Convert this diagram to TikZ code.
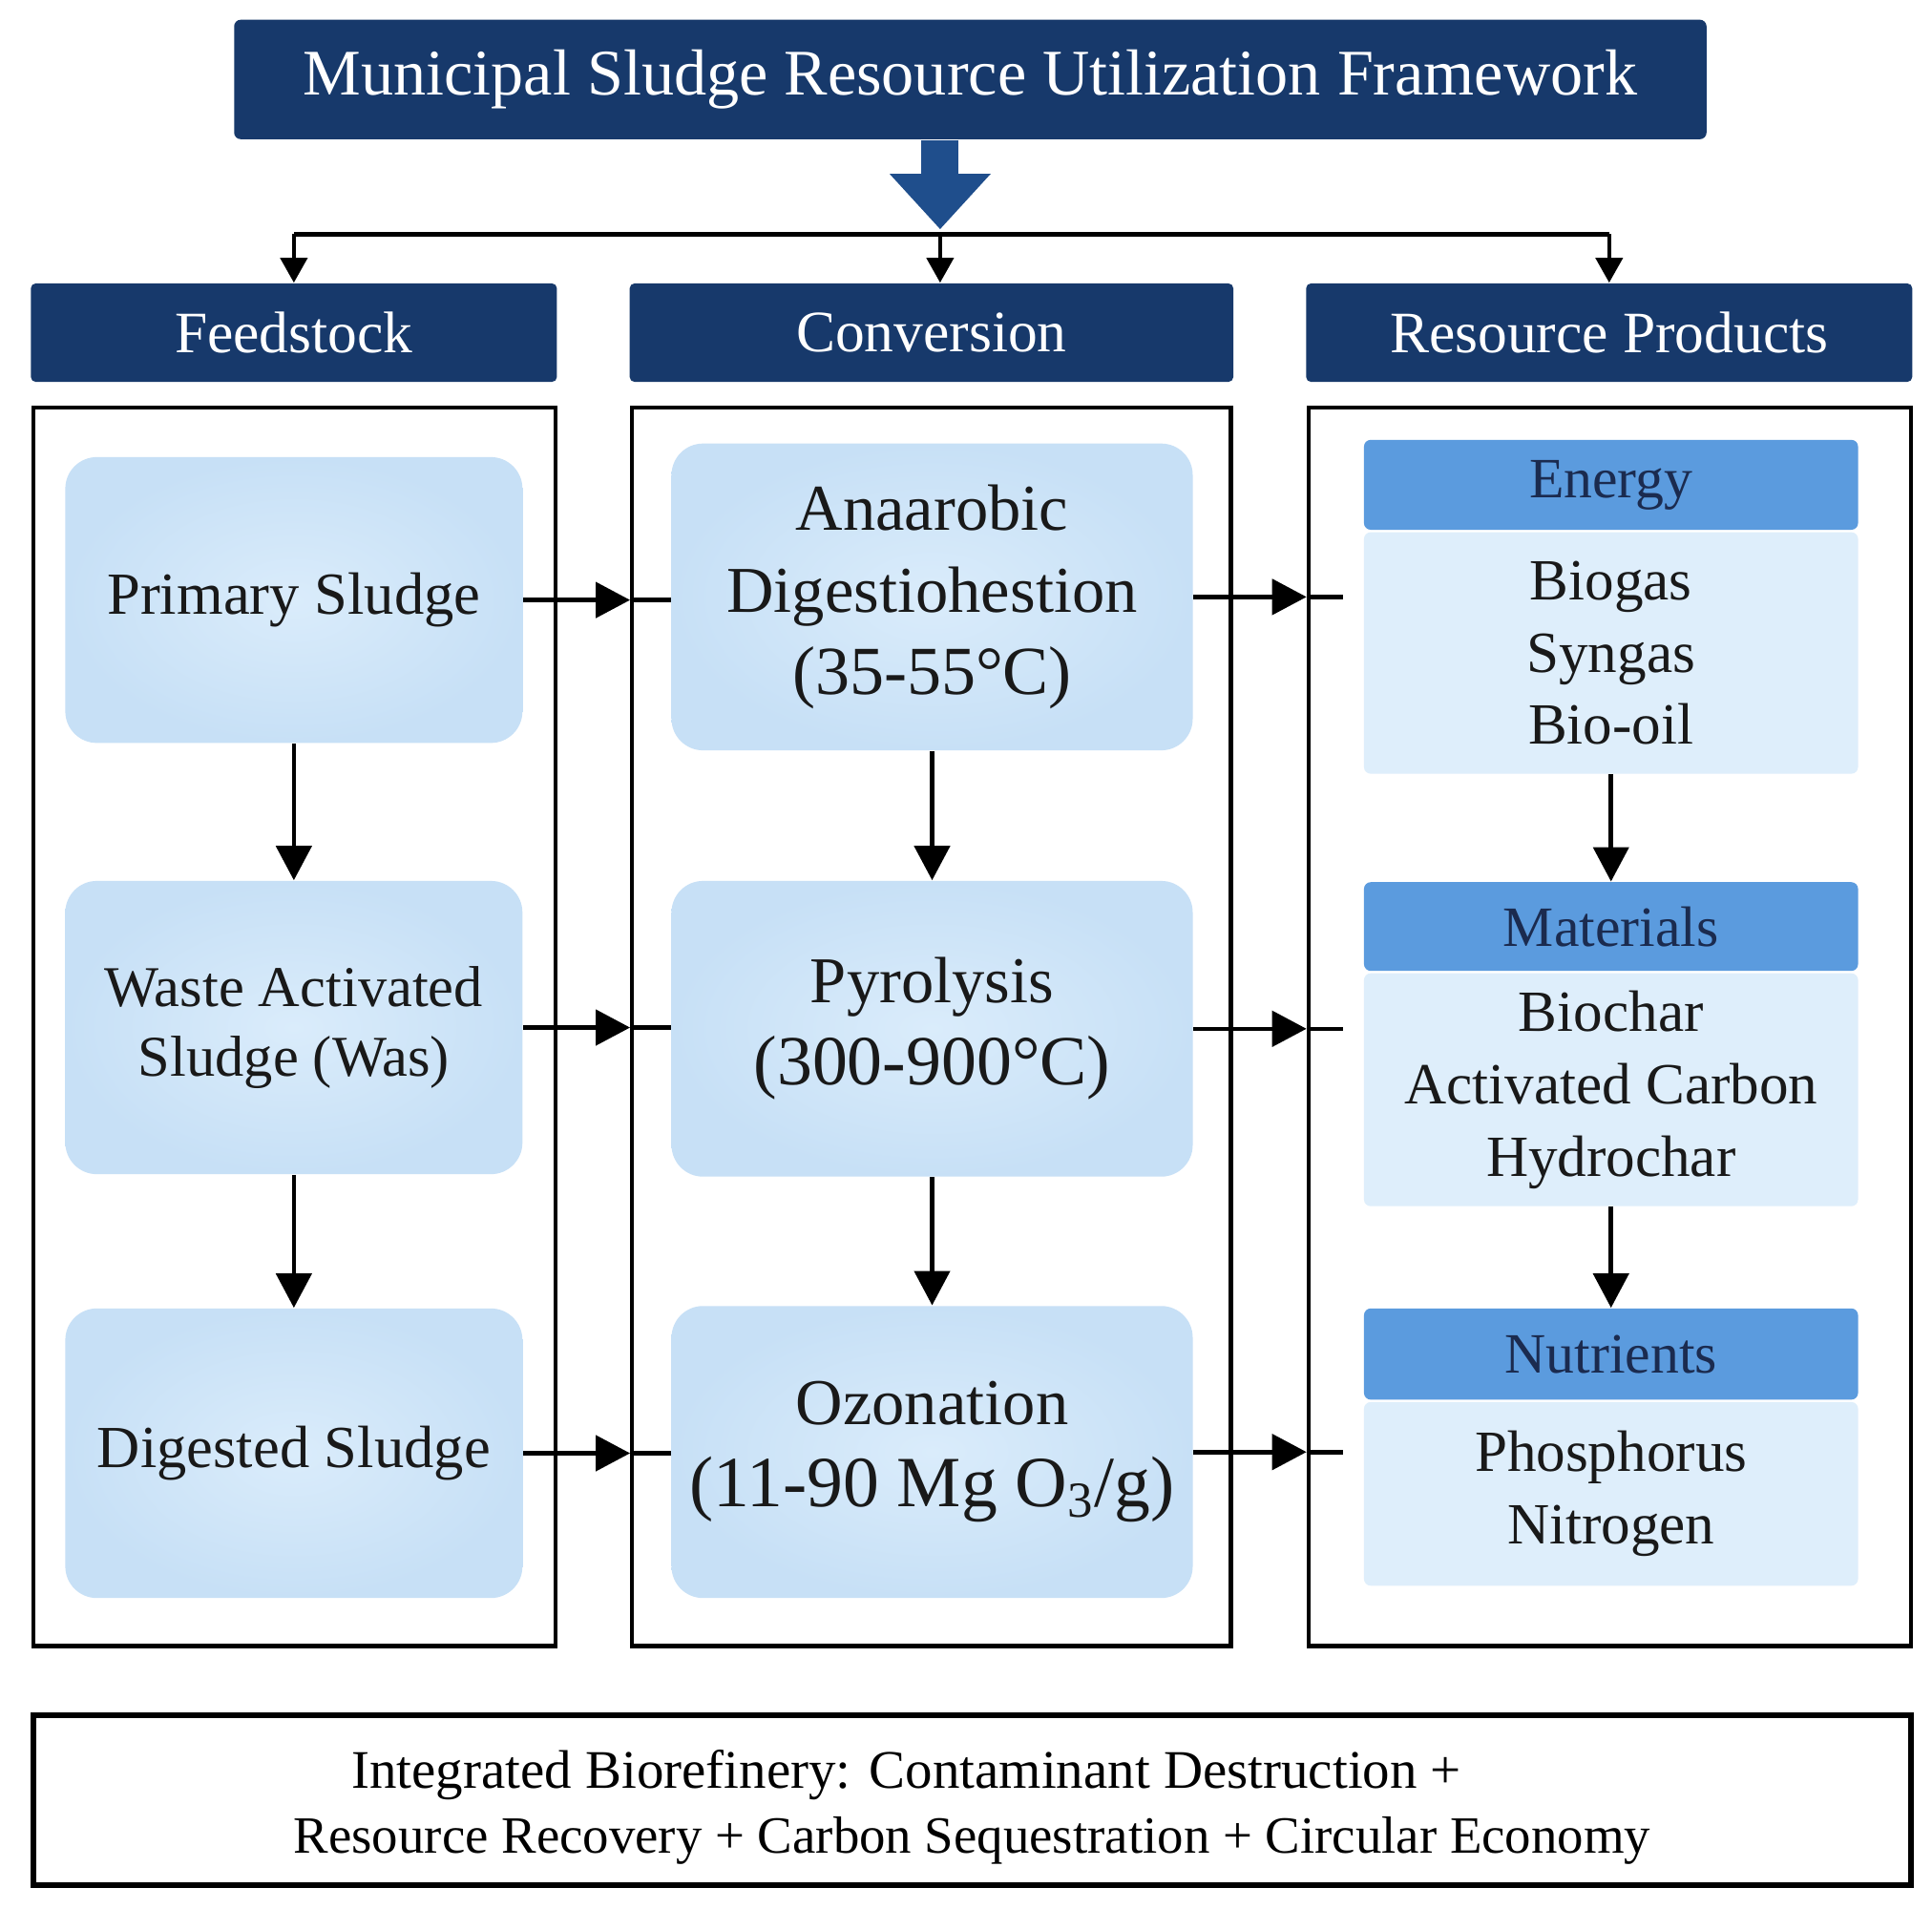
\documentclass[tikz,border=0pt]{standalone}
\usepackage{fontspec}
\setmainfont{Liberation Serif}
\usetikzlibrary{arrows.meta}
\newdimen\pxu \pxu=0.012908cm
\definecolor{navy}{HTML}{17396B}
\definecolor{arrowblue}{HTML}{1F4E8C}
\definecolor{lightA}{HTML}{DAECFB}
\definecolor{lightB}{HTML}{C7E0F6}
\definecolor{rhead}{HTML}{5B9BDE}
\definecolor{rbody}{HTML}{DEEEFB}
\definecolor{darktext}{HTML}{1B2B4F}
\tikzset{
  titlebox/.style={fill=navy, text=white, rounded corners=2pt, inner sep=0pt,
    minimum width=1195\pxu, minimum height=97\pxu, font=\fontsize{19.4}{24}\selectfont},
  colhead/.style={fill=navy, text=white, rounded corners=1.5pt, inner sep=0pt,
    minimum height=80\pxu, font=\fontsize{17.5}{21}\selectfont},
  column/.style={draw=black, line width=1.2pt, inner sep=0pt, minimum height=1005\pxu},
  softbox/.style={shading=radial, inner color=lightA, outer color=lightB,
    rounded corners=3.3mm, inner sep=0pt, align=center, text=black!90},
  feedbox/.style={softbox, minimum width=371\pxu, font=\fontsize{17.2}{21}\selectfont},
  convbox/.style={softbox, minimum width=423\pxu, font=\fontsize{19.5}{24.5}\selectfont},
  reshead/.style={fill=rhead, text=darktext, inner sep=0pt, rounded corners=2pt,
    minimum width=401\pxu, font=\fontsize{17}{21}\selectfont},
  resbody/.style={fill=rbody, inner sep=0pt, rounded corners=2pt, align=center,
    minimum width=401\pxu, text=black!90, font=\fontsize{17.4}{21.6}\selectfont},
  conn/.style={draw=black, line width=1.3pt},
  arr/.style={conn, -{Triangle[length=3.6mm,width=3.7mm]}},
  toparr/.style={draw=black, line width=1.2pt, -{Triangle[length=2.6mm,width=2.8mm]}},
  bigarr/.style={draw=arrowblue, line width=3.9mm, -{Triangle[length=5.8mm,width=10.2mm]}},
  summarybox/.style={draw=black, line width=1.7pt, inner sep=0pt, align=left,
    minimum width=1524\pxu, minimum height=138\pxu, font=\fontsize{15.6}{19.5}\selectfont}
}
\newcommand{\bigline}[1]{{\fontsize{21}{24.5}\selectfont #1}}
\begin{document}
\begin{tikzpicture}[x=0.012908cm, y=-0.012908cm]
\useasboundingbox[fill=white] (0,0) rectangle (1568,1549);

% title
\node[titlebox] (title) at (787.5,64.5) {Municipal Sludge Resource Utilization Framework};
\coordinate (hub) at (763,190);

% column headers
\node[colhead, minimum width=427\pxu] (hF) at (238.5,270) {Feedstock};
\node[colhead, minimum width=490\pxu] (hC) at (756,270) {Conversion};
\node[colhead, minimum width=492\pxu] (hR) at (1306,270) {Resource Products};

% column frames
\node[column, minimum width=424\pxu] (cF) at (239,833.5) {};
\node[column, minimum width=486\pxu] (cC) at (756,833.5) {};
\node[column, minimum width=489\pxu] (cR) at (1306.5,833.5) {};

% feedstock
\node[feedbox, minimum height=232\pxu, font=\fontsize{17.8}{21}\selectfont] (ps) at (238.5,487) {Primary Sludge};
\node[feedbox, minimum height=238\pxu] (was) at (238.5,834) {Waste Activated\\Sludge (Was)};
\node[feedbox, minimum height=235\pxu, font=\fontsize{17.8}{21}\selectfont] (ds) at (238.5,1179.5) {Digested Sludge};

% conversion
\node[convbox, minimum height=249\pxu] (ad) at (756.5,484.5) {Anaarobic\\Digestiohestion\\{\fontsize{20.5}{24.5}\selectfont(35-55°C)}};
\node[convbox, minimum height=240\pxu] (py) at (756.5,835) {Pyrolysis\\\bigline{(300-900°C)}};
\node[convbox, minimum height=237\pxu] (oz) at (756.5,1178.5) {Ozonation\\{\fontsize{21.5}{24.5}\selectfont(11-90 Mg O\textsubscript{3}/g)}};

% resource products
\node[reshead, minimum height=73\pxu] (eh) at (1307.5,393.5) {Energy};
\node[resbody, minimum height=196\pxu] (eb) at (1307.5,530) {Biogas\\Syngas\\Bio-oil};
\node[reshead, minimum height=72\pxu] (mh) at (1307.5,752) {Materials};
\node[resbody, minimum height=189\pxu] (mb) at (1307.5,884.5) {Biochar\\Activated Carbon\\Hydrochar};
\node[reshead, minimum height=74\pxu] (nh) at (1307.5,1099) {Nutrients};
\node[resbody, minimum height=149\pxu] (nb) at (1307.5,1212.5) {Phosphorus\\Nitrogen};

% summary
\node[summarybox] (sum) at (789,1461)
  {\rule{0pt}{15.7pt}\hspace*{47\pxu}{\fontsize{16.2}{19.5}\selectfont Integrated Biorefinery: Contaminant Destruction +}\\Resource Recovery + Carbon Sequestration + Circular Economy};

% top distribution
\draw[bigarr] (title.south -| hub) -- ([yshift=0.5mm]hub);
\draw[draw=black, line width=1.4pt] (hub -| hF) -- (hub -| hR);
\draw[toparr] (hub -| hF) -- (hF.north);
\draw[toparr] (hub) -- (hC.north -| hub);
\draw[toparr] (hub -| hR) -- (hR.north);

% vertical flows
\draw[arr] (ps.south) -- (was.north);
\draw[arr] (was.south) -- (ds.north);
\draw[arr] (ad.south) -- (py.north);
\draw[arr] (py.south) -- (oz.north);
\draw[arr] (eb.south) -- (mh.north);
\draw[arr] (mb.south) -- (nh.north);

% horizontal flows feedstock -> conversion
\draw[arr] (ps.east) -- (ps.east -| cC.west);
\draw[conn] (ps.east -| cC.west) -- (ps.east -| ad.west);
\draw[arr] (was.east) -- (was.east -| cC.west);
\draw[conn] (was.east -| cC.west) -- (was.east -| py.west);
\draw[arr] (ds.east) -- (ds.east -| cC.west);
\draw[conn] (ds.east -| cC.west) -- (ds.east -| oz.west);

% horizontal flows conversion -> resource products
\coordinate (s1) at (1090,484.5);
\coordinate (s2) at (1090,835);
\coordinate (s3) at (1090,1178.5);
\draw[arr] (ad.east) -- (ad.east -| cR.west);
\draw[conn] (ad.east -| cR.west) -- (s1);
\draw[arr] (py.east) -- (py.east -| cR.west);
\draw[conn] (py.east -| cR.west) -- (s2);
\draw[arr] (oz.east) -- (oz.east -| cR.west);
\draw[conn] (oz.east -| cR.west) -- (s3);
\end{tikzpicture}
\end{document}
